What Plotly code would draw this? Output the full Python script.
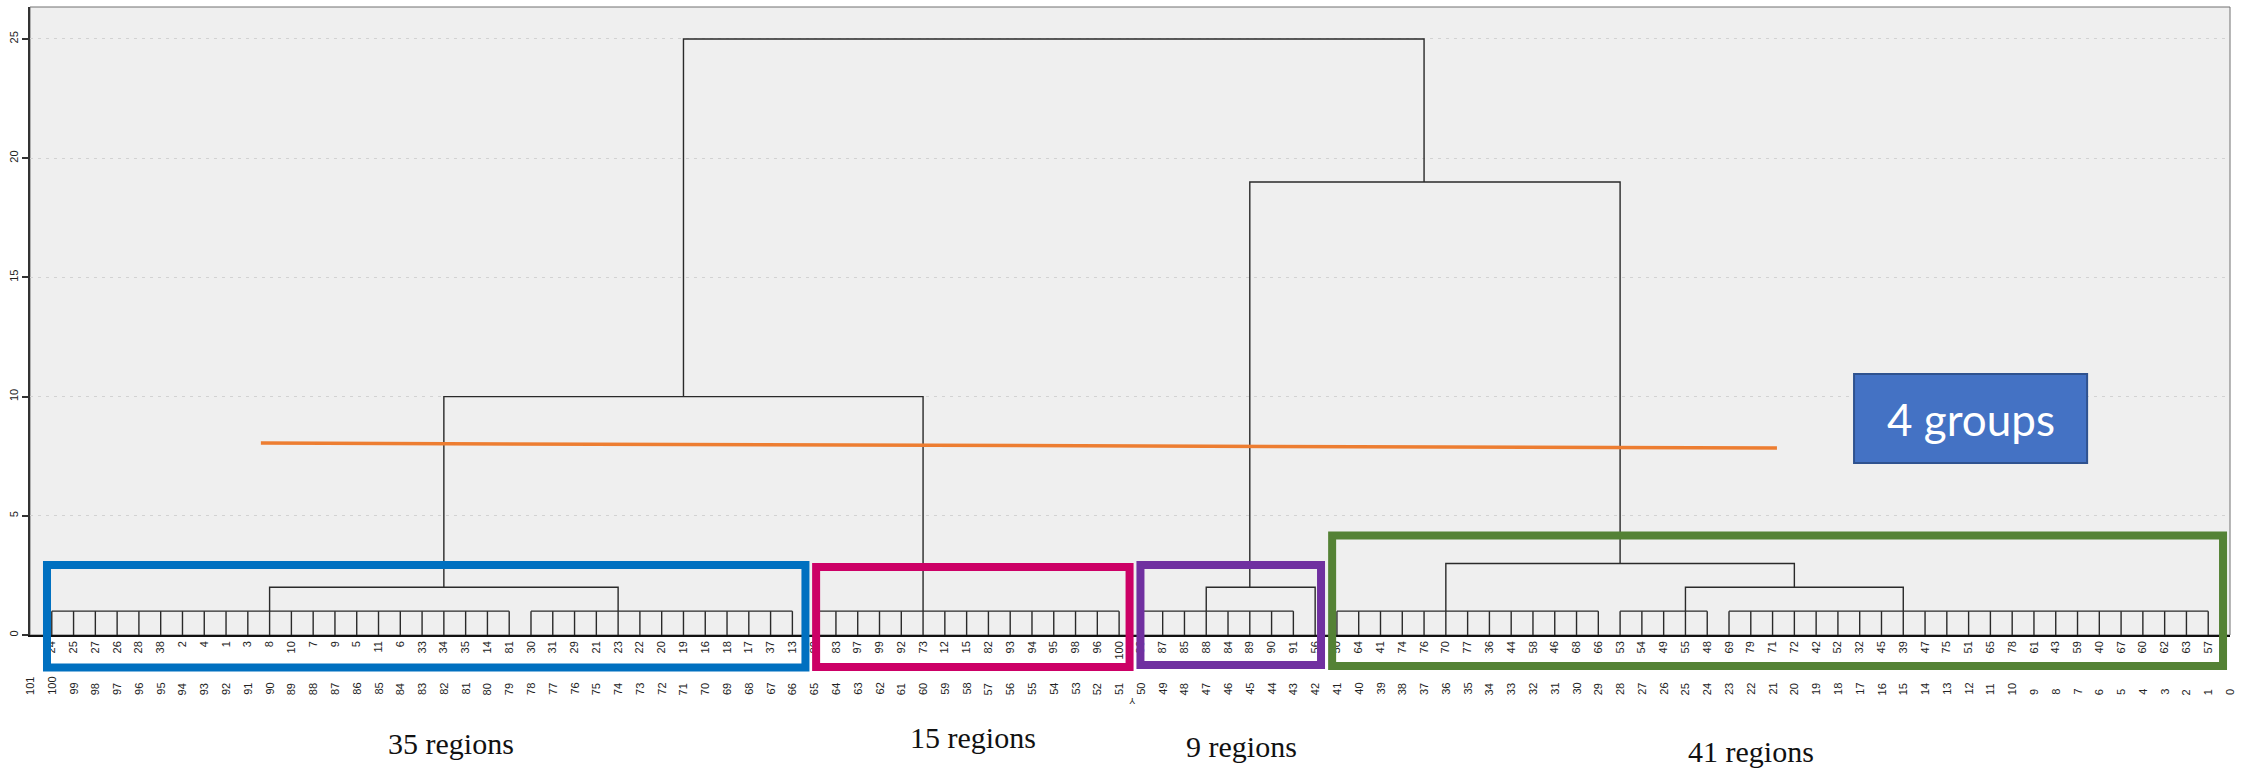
import plotly.graph_objects as go

# Region IDs in dendrogram leaf order (left to right)
leaf_labels = [
    24, 25, 27, 26, 28, 38, 2, 4, 1, 3, 8, 10, 7, 9, 5, 11, 6, 33, 34, 35, 14, 81,
    30, 31, 29, 21, 23, 22, 20, 19, 16, 18, 17, 37, 13,
    80, 83, 97, 99, 92, 73, 12, 15, 82, 93, 94, 95, 98, 96, 100,
    86, 87, 85, 88, 84, 89, 90, 91, 56,
    50, 64, 41, 74, 76, 70, 77, 36, 44, 58, 46, 68, 66,
    53, 54, 49, 55, 48,
    69, 79, 71, 72, 42, 52, 32, 45, 39, 47, 75, 51, 65, 78, 61, 43, 59, 40, 67, 60, 62, 63, 57,
]

# Case-number scale printed under the leaves
axis_ticks = list(range(101, -1, -1))

# Leaf spans (1-based leaf positions) fused at the first level
base_clusters = [(1, 22), (23, 35), (36, 50), (51, 58), (60, 72), (73, 77), (78, 100)]
base_height = 1

# Higher merges: (left node, left height, right node, right height, merge height)
merges = [
    (11, 1, 27, 1, 2),
    (54, 1, 59, 0, 2),
    (76, 1, 86, 1, 2),
    (65, 1, 81, 2, 3),
    (19, 2, 41, 1, 10),
    (56, 2, 73, 3, 19),
    (30, 10, 64, 19, 25),
]

# Cut line for four clusters
cut_x = [90.4, 20.8]
cut_y = [8.05, 7.84]

# Cluster groups: name, size, colour, frame (x0, x1, y0, y1 in axis units)
group_names = ["35 regions", "15 regions", "9 regions", "41 regions"]
group_colors = ["#0070C0", "#CC0066", "#7030A0", "#548235"]
group_frames = [
    (100.22, 65.4, -1.36, 2.94),
    (64.91, 50.52, -1.34, 2.85),
    (50.02, 41.73, -1.26, 2.94),
    (41.22, 0.32, -1.30, 4.17),
]
group_label_x = [81.67, 57.71, 45.4, 22.0]
group_label_y = [-0.172, -0.164, -0.178, -0.186]

N_SPAN = 101
Y_MAX = 26.34


def pos(i):
    """Leaf position -> x axis value (axis runs 101 .. 0)."""
    return N_SPAN - i


# Build the dendrogram as one polyline with gaps
xs, ys = [], []
for a, b in base_clusters:
    for i in range(a, b + 1):
        xs += [pos(i), pos(i), None]
        ys += [0, base_height, None]
    xs += [pos(a), pos(b), None]
    ys += [base_height, base_height, None]
for l, lh, r, rh, h in merges:
    xs += [pos(l), pos(l), pos(r), pos(r), None]
    ys += [lh, h, h, rh, None]

fig = go.Figure()
fig.add_trace(go.Scatter(
    x=xs, y=ys, mode="lines",
    line=dict(color="#2a2a2a", width=1.4),
    hoverinfo="skip", showlegend=False,
))
fig.add_trace(go.Scatter(
    x=cut_x, y=cut_y, mode="lines",
    line=dict(color="#ED7D31", width=3.5),
    hoverinfo="skip", showlegend=False,
))

tick_font = dict(family="Liberation Sans, Arial, sans-serif", size=11, color="#222")

fig.update_xaxes(
    range=[N_SPAN, 0],
    tickmode="array",
    tickvals=[pos(i) for i in range(1, len(leaf_labels) + 1)],
    ticktext=[str(v) for v in leaf_labels],
    tickangle=-90,
    tickfont=tick_font,
    ticks="",
    showgrid=False,
    zeroline=False,
    showline=True,
    linecolor="#111",
    linewidth=1.5,
)
fig.update_yaxes(
    range=[0, Y_MAX],
    tickmode="array",
    tickvals=[0, 5, 10, 15, 20, 25],
    tickangle=-90,
    tickfont=tick_font,
    ticks="outside",
    ticklen=6,
    tickwidth=2,
    tickcolor="#333",
    showgrid=True,
    gridcolor="#d2d2d2",
    gridwidth=1,
    griddash="3px,5px",
    zeroline=False,
    showline=True,
    linecolor="#333",
    linewidth=2,
)

shapes = [
    dict(type="rect", xref="paper", yref="paper", x0=0, x1=1, y0=0, y1=1,
         line=dict(color="#707070", width=1), layer="below"),
]


def px_x(v):
    return (N_SPAN - v) / N_SPAN


def px_y(v):
    return v / Y_MAX


for (x0, x1, y0, y1), col in zip(group_frames, group_colors):
    shapes.append(dict(
        type="rect", xref="paper", yref="paper",
        x0=px_x(x0), x1=px_x(x1), y0=px_y(y0), y1=px_y(y1),
        line=dict(color=col, width=8), fillcolor="rgba(0,0,0,0)", layer="above",
    ))

shapes.append(dict(
    type="rect", xref="x", yref="y", x0=17.26, x1=6.56, y0=7.21, y1=10.95,
    fillcolor="#4472C4", line=dict(color="#2F528F", width=2), layer="above",
))

annotations = []
for k in axis_ticks:
    annotations.append(dict(
        x=k, xref="x", y=-0.0987, yref="paper", text=str(k),
        textangle=-90, xanchor="center", yanchor="bottom",
        showarrow=False, font=tick_font,
    ))

annotations.append(dict(
    x=50.4, xref="x", y=-0.116, yref="paper", text="Y", textangle=180,
    showarrow=False, font=dict(family="Liberation Sans, Arial", size=9, color="#222"),
))

for name, gx, gy in zip(group_names, group_label_x, group_label_y):
    annotations.append(dict(
        x=gx, xref="x", y=gy, yref="paper", text=name,
        xanchor="center", yanchor="middle", showarrow=False,
        font=dict(family="Liberation Serif, Times New Roman, serif", size=30, color="#111"),
    ))

annotations.append(dict(
    x=11.91, xref="x", y=9.08, yref="y", text="4 groups",
    xanchor="center", yanchor="middle", showarrow=False,
    font=dict(family="Lato, Open Sans, sans-serif", size=44, color="white"),
))

fig.update_layout(
    width=2255, height=775,
    margin=dict(l=30, r=25, t=7, b=140),
    plot_bgcolor="#EFEFEF",
    paper_bgcolor="white",
    showlegend=False,
    shapes=shapes,
    annotations=annotations,
)

fig.write_html("out.html")
